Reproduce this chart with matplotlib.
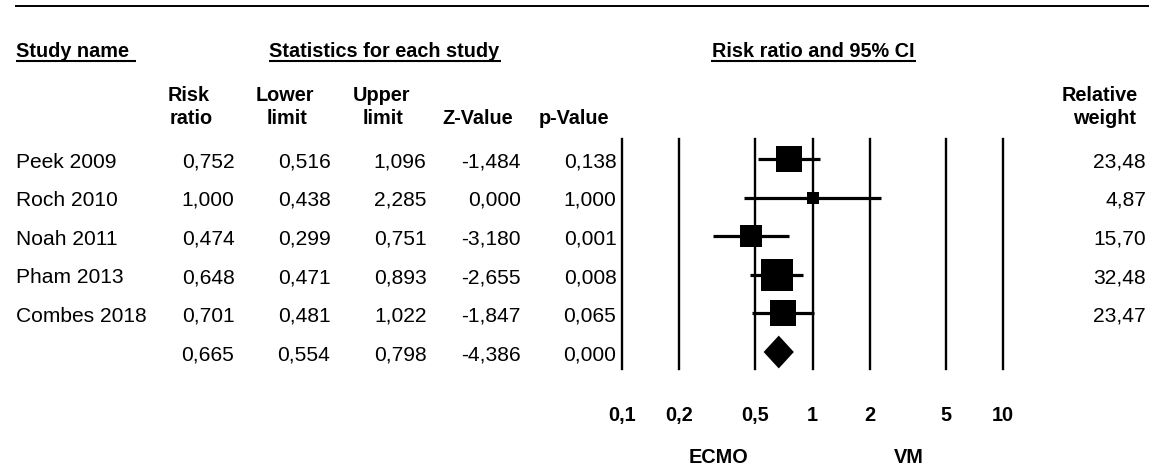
import matplotlib
matplotlib.use('Agg')
import matplotlib.pyplot as plt
import numpy as np
from matplotlib.ticker import NullLocator
from matplotlib.transforms import blended_transform_factory

plt.rcParams['font.family'] = ['Liberation Sans', 'DejaVu Sans']

# ---------------- data ----------------
studies = ['Peek 2009', 'Roch 2010', 'Noah 2011', 'Pham 2013', 'Combes 2018']
risk_ratio = [0.752, 1.000, 0.474, 0.648, 0.701]
lower_limit = [0.516, 0.438, 0.299, 0.471, 0.481]
upper_limit = [1.096, 2.285, 0.751, 0.893, 1.022]
z_value = [-1.484, 0.000, -3.180, -2.655, -1.847]
p_value = [0.138, 1.000, 0.001, 0.008, 0.065]
rel_weight = [23.48, 4.87, 15.70, 32.48, 23.47]

pooled_rr = 0.665
pooled_lower = 0.554
pooled_upper = 0.798
pooled_z = -4.386
pooled_p = 0.000

tick_values = [0.1, 0.2, 0.5, 1, 2, 5, 10]
tick_labels = ['0,1', '0,2', '0,5', '1', '2', '5', '10']
favours_left = 'ECMO'
favours_right = 'VM'

# ---------------- layout ----------------
W, H = 1156, 477
fig = plt.figure(figsize=(W / 100, H / 100), dpi=100)
bg = fig.add_axes([0, 0, 1, 1])
bg.set_xlim(0, W)
bg.set_ylim(H, 0)
bg.axis('off')

REG = 15.1
BOLD = 14.3


def fmt(v, nd=3):
    return f"{v:.{nd}f}".replace('.', ',')


def txt(x, yc, s, ha='left', bold=False):
    size = BOLD if bold else REG
    base = yc + 0.716 * size * 100 / 72 / 2
    return bg.text(x, base, s, ha=ha, va='baseline', fontsize=size,
                   fontweight='bold' if bold else 'normal', color='black')


# top rule
bg.plot([15, 1149], [7, 7], color='black', lw=1.4, solid_capstyle='butt')

# section headers
h1 = txt(16.5, 50, 'Study name', 'left', True)
h2 = txt(384.5, 50, 'Statistics for each study', 'center', True)
h3 = txt(813, 50, 'Risk ratio and 95% CI', 'center', True)

# column headers
txt(189, 94, 'Risk', 'center', True)
txt(191.5, 117, 'ratio', 'center', True)
txt(285, 94, 'Lower', 'center', True)
txt(287, 117, 'limit', 'center', True)
txt(381, 94, 'Upper', 'center', True)
txt(383, 117, 'limit', 'center', True)
txt(478, 117, 'Z-Value', 'center', True)
txt(574, 117, 'p-Value', 'center', True)
txt(1100, 94, 'Relative', 'center', True)
txt(1104.5, 117, 'weight', 'center', True)

row_y = [160, 198, 237, 275.5, 314, 353]
col_right = [234.5, 330.5, 426.5, 521, 616.5]
weight_right = 1146

for i, name in enumerate(studies):
    y = row_y[i]
    txt(16.5, y, name)
    vals = [fmt(risk_ratio[i]), fmt(lower_limit[i]), fmt(upper_limit[i]),
            fmt(z_value[i]), fmt(p_value[i])]
    for xr, s in zip(col_right, vals):
        txt(xr, y, s, 'right')
    txt(weight_right, y, fmt(rel_weight[i], 2), 'right')

y = row_y[5]
for xr, s in zip(col_right, [fmt(pooled_rr), fmt(pooled_lower), fmt(pooled_upper),
                             fmt(pooled_z), fmt(pooled_p)]):
    txt(xr, y, s, 'right')

# underlines under section headers
fig.canvas.draw()
r = fig.canvas.get_renderer()
inv = bg.transData.inverted()
for t, extra in [(h1, 6), (h2, 1), (h3, 2)]:
    bb = t.get_window_extent(r)
    x0 = inv.transform((bb.x0, bb.y0))[0]
    x1 = inv.transform((bb.x1, bb.y0))[0]
    bg.plot([x0 - 0.5, x1 + extra], [61.5, 61.5], color='black', lw=1.5,
            solid_capstyle='butt')

# ---------------- forest plot ----------------
top_px, bot_px = 140, 370
ax = fig.add_axes([622 / W, (H - bot_px) / H, (1003 - 622) / W, (bot_px - top_px) / H])
ax.set_xscale('log')
ax.set_xlim(0.1, 10)
ax.set_ylim(5.44, -0.518)
ax.patch.set_visible(False)
for s in ax.spines.values():
    s.set_visible(False)
ax.set_yticks([])
ax.xaxis.set_minor_locator(NullLocator())
ax.set_xticks(tick_values)
ax.set_xticklabels(tick_labels, fontsize=BOLD, fontweight='bold')
ax.tick_params(axis='x', length=0, pad=26)

for tv in tick_values:
    ax.axvline(tv, color='black', lw=1.7, clip_on=False, zorder=1)

k = 5.51  # px per sqrt(weight)
for i in range(len(studies)):
    ax.plot([lower_limit[i], upper_limit[i]], [i, i], color='black', lw=2.3,
            solid_capstyle='butt', zorder=2, clip_on=False)
    side_px = k * np.sqrt(rel_weight[i])
    ax.plot(risk_ratio[i], i, marker='s', ms=side_px * 0.72, color='black',
            mew=0, zorder=3, clip_on=False)

yd = 5
hh = 0.425
ax.fill([pooled_lower, pooled_rr, pooled_upper, pooled_rr],
        [yd, yd - hh, yd, yd + hh], color='black', lw=0, zorder=3, clip_on=False)

tr = blended_transform_factory(ax.transData, bg.transData)
cap_half = 0.716 * BOLD * 100 / 72 / 2
ax.text(0.32, 456 + cap_half, favours_left, transform=tr, ha='center', va='baseline',
        fontsize=BOLD, fontweight='bold')
ax.text(3.2, 456 + cap_half, favours_right, transform=tr, ha='center', va='baseline',
        fontsize=BOLD, fontweight='bold')

fig.savefig('out.png', dpi=100)
